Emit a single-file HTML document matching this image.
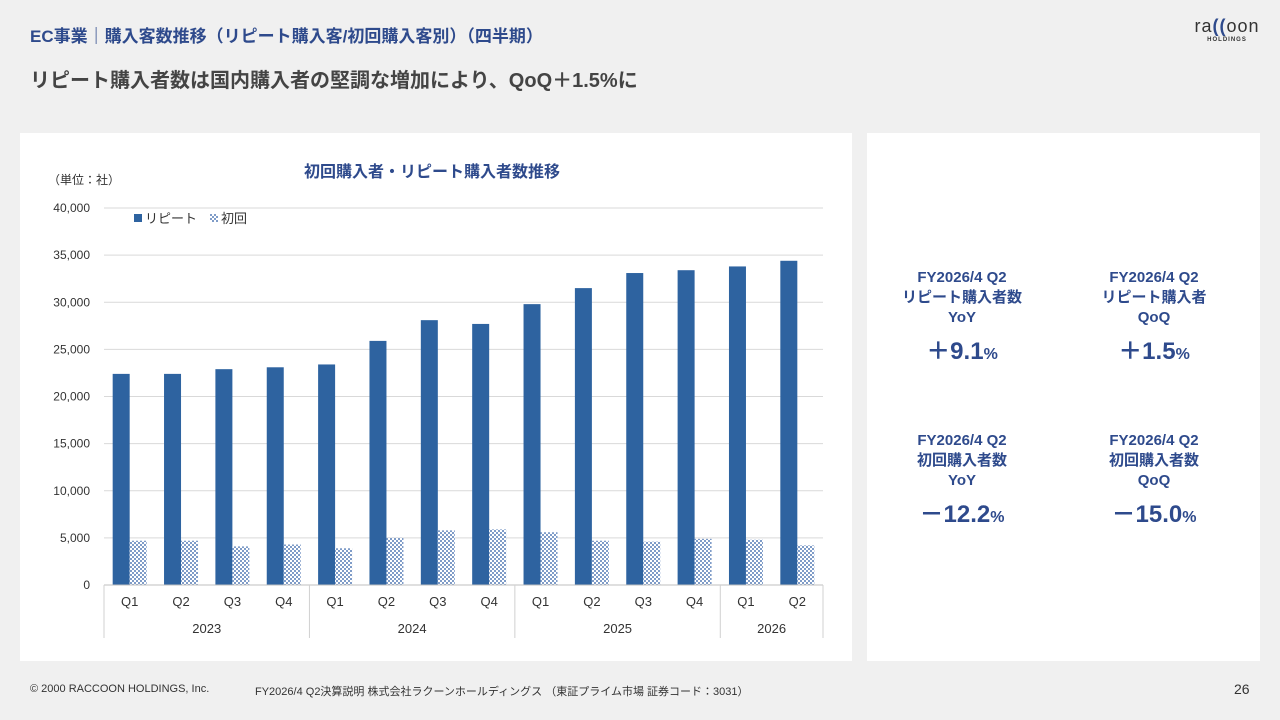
<!DOCTYPE html>
<html><head><meta charset="utf-8"><style>
body{margin:0;width:1280px;height:720px;background:#f0f0f0;font-family:"Liberation Sans","Noto Sans CJK JP",sans-serif;position:relative;overflow:hidden}
.a{position:absolute}
.kpi{position:absolute;width:180px;text-align:center;color:#2e4a8c;font-weight:bold;font-size:15px;line-height:20px}
.kpi .v{font-size:24px;margin-top:14px}
.kpi .v small{font-size:16px}
</style></head><body>
<div class="a" style="left:30px;top:22px;font-size:17px;font-weight:bold;color:#2e4a8c">EC事業｜購入客数推移（リピート購入客/初回購入客別）（四半期）</div>
<div class="a" style="left:30px;top:64px;font-size:20px;font-weight:bold;color:#444">リピート購入者数は国内購入者の堅調な増加により、QoQ＋1.5%に</div>
<div class="a" style="left:1192px;top:16px;color:#2e4a8c;text-align:center;width:70px"><div style="font-size:18px;color:#333;letter-spacing:1px">ra<span style="color:#2e4a8c;font-weight:bold">((</span>oon</div><div style="font-size:6px;font-weight:bold;color:#333;letter-spacing:1px">HOLDINGS</div></div>
<div class="a" style="left:20px;top:133px;width:832px;height:528px;background:#fff"></div>
<div class="a" style="left:867px;top:133px;width:393px;height:528px;background:#fff"></div>
<svg class="a" style="left:0;top:0" width="1280" height="720" id="ch"></svg>
<div class="kpi" style="left:872px;top:268px">FY2026/4 Q2<br>リピート購入者数<br>YoY<div class="v">＋9.1<small>%</small></div></div>
<div class="kpi" style="left:1064px;top:268px">FY2026/4 Q2<br>リピート購入者<br>QoQ<div class="v">＋1.5<small>%</small></div></div>
<div class="kpi" style="left:872px;top:431px">FY2026/4 Q2<br>初回購入者数<br>YoY<div class="v">－12.2<small>%</small></div></div>
<div class="kpi" style="left:1064px;top:431px">FY2026/4 Q2<br>初回購入者数<br>QoQ<div class="v">－15.0<small>%</small></div></div>
<div class="a" style="left:30px;top:683px;font-size:11px;color:#333">© 2000 RACCOON HOLDINGS, Inc.</div>
<div class="a" style="left:255px;top:683px;font-size:11px;color:#333">FY2026/4 Q2決算説明 株式会社ラクーンホールディングス （東証プライム市場 証券コード：3031）</div>
<div class="a" style="left:1234px;top:681px;font-size:14px;color:#333">26</div>
<script>
const quarters=["Q1","Q2","Q3","Q4","Q1","Q2","Q3","Q4","Q1","Q2","Q3","Q4","Q1","Q2"];
const years=["2023","2024","2025","2026"];
const yearSpans=[4,4,4,2];
const repeatVals=[22400,22400,22900,23100,23400,25900,28100,27700,29800,31500,33100,33400,33800,34400];
const firstVals=[4700,4700,4100,4300,3900,5000,5800,5900,5600,4700,4600,4900,4800,4200];
const yTicks=[0,5000,10000,15000,20000,25000,30000,35000,40000];
const svg=document.getElementById('ch');const NS='http://www.w3.org/2000/svg';
const X0=104,X1=823,Y0=585,Y1=208,YMAX=40000;
const gw=(X1-X0)/quarters.length;
const y=v=>Y0-(v/YMAX)*(Y0-Y1);
function mk(t,a,txt){const e=document.createElementNS(NS,t);for(const k in a)e.setAttribute(k,a[k]);if(txt!=null)e.textContent=txt;svg.appendChild(e);return e;}
const defs=mk('defs',{});
defs.innerHTML='<pattern id="pt" width="4" height="4" patternUnits="userSpaceOnUse"><rect width="4" height="4" fill="#fff"/><rect width="2" height="2" fill="#7f9cc8"/><rect x="2" y="2" width="2" height="2" fill="#7f9cc8"/></pattern>';
let e;
e=mk('text',{x:432,y:177,'font-size':16,'font-weight':'bold',fill:'#2e4a8c','text-anchor':'middle'},'初回購入者・リピート購入者数推移');

e=mk('text',{x:48,y:184,'font-size':12,fill:'#333'},'（単位：社）');

yTicks.forEach(t=>{
 e=mk('line',{x1:X0,x2:X1,y1:y(t),y2:y(t),stroke:'#d9d9d9','stroke-width':1});
 
 e=mk('text',{x:90,y:y(t)+4,'font-size':12,fill:'#333','text-anchor':'end'},t.toLocaleString('en-US'));
 
});
repeatVals.forEach((v,i)=>{
 const cx=X0+gw*(i+0.5);
 e=mk('rect',{x:cx-17,y:y(v),width:17,height:Y0-y(v),fill:'#2e63a0'});
 
 e=mk('rect',{x:cx,y:y(firstVals[i]),width:17,height:Y0-y(firstVals[i]),fill:'url(#pt)'});
 
 e=mk('text',{x:cx,y:606,'font-size':13,fill:'#333','text-anchor':'middle'},quarters[i]);
 
});
mk('line',{x1:X0,x2:X1,y1:Y0,y2:Y0,stroke:'#bfbfbf'});
let idx=0;
mk('line',{x1:X0,x2:X0,y1:Y0,y2:638,stroke:'#d0d0d0'});
years.forEach((yr,j)=>{
 const s=X0+gw*idx;idx+=yearSpans[j];const en=X0+gw*idx;
 mk('line',{x1:en,x2:en,y1:Y0,y2:638,stroke:'#d0d0d0'});
 e=mk('text',{x:(s+en)/2,y:633,'font-size':13,fill:'#333','text-anchor':'middle'},yr);
 
});
e=mk('rect',{x:134,y:214,width:8,height:8,fill:'#2e63a0'});

e=mk('text',{x:145,y:223,'font-size':13,fill:'#333'},'リピート');

e=mk('rect',{x:210,y:214,width:8,height:8,fill:'url(#pt)'});

e=mk('text',{x:221,y:223,'font-size':13,fill:'#333'},'初回');

</script>
</body></html>
